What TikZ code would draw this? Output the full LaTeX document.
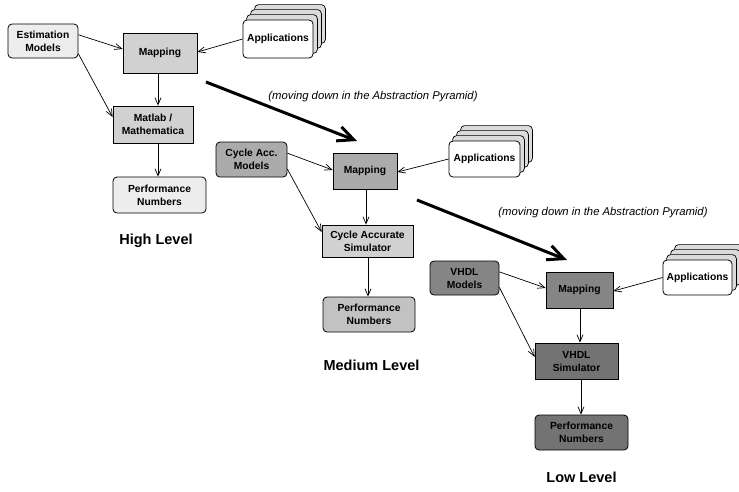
\documentclass[tikz,border=0pt]{standalone}
\usepackage{fontspec}
\setmainfont{Liberation Sans}
\usetikzlibrary{arrows.meta,calc,shadows,backgrounds}

\tikzset{
  boxtext/.style={font=\bfseries\fontsize{10.3}{13}\selectfont, align=center, inner sep=1pt},
  rbox/.style={boxtext, draw=black, line width=0.8pt, rounded corners=4pt},
  sbox/.style={boxtext, draw=black, line width=0.8pt,
    drop shadow={shadow xshift=1.2pt, shadow yshift=-1.2pt, opacity=1, fill=black}},
  stackcard/.style={draw=black, line width=0.7pt, rounded corners=4pt, fill=black!14},
  conn/.style={line width=0.7pt, -{Straight Barb[length=7pt,width=6pt,line width=0.7pt]}},
  bigconn/.style={line width=3pt, -{Straight Barb[length=16pt,width=15pt,line width=3pt]}},
  levellabel/.style={font=\bfseries\fontsize{14.5}{16}\selectfont},
  movelabel/.style={font=\itshape\fontsize{11.3}{13}\selectfont},
  lightA/.style={fill=black!7},
  lightB/.style={fill=black!18},
  midA/.style={fill=black!33},
  midB/.style={fill=black!24},
  darkA/.style={fill=black!48},
  darkB/.style={fill=black!55},
}

% stacked application cards behind a front card
\newcommand{\cardstack}[1]{%
  \begin{scope}[on background layer]
    \foreach \k in {3,2,1}
      \draw[stackcard] ($(#1.south west)+(4*\k,-5*\k)$) rectangle ($(#1.north east)+(4*\k,-5*\k)$);
  \end{scope}}

\begin{document}
\begin{tikzpicture}[x=1pt,y=-1pt]
\useasboundingbox (0,0) rectangle (739,491);

% ---------------- High level ----------------
\node[rbox, lightA, minimum width=70pt, minimum height=34pt] (est) at (43,41) {Estimation\\Models};
\node[sbox, lightB, minimum width=74pt, minimum height=40pt] (map1) at (160,53) {Mapping};
\node[rbox, fill=white, minimum width=70pt, minimum height=38pt] (app1) at (278,39) {Applications};
\cardstack{app1}
\node[sbox, lightB, minimum width=80pt, minimum height=37pt] (mat) at (153,124.5) {Matlab /\\Mathematica};
\node[rbox, lightA, minimum width=93pt, minimum height=36pt] (perf1) at (159.5,195) {Performance\\Numbers};
\node[levellabel] (hl) at (156,241) {High Level};

\draw[conn] (est.10) -- (map1.west |- 0,49);
\draw[conn] (est.-20) -- (mat.west |- 0,117);
\draw[conn] (app1.west) -- (map1.east |- 0,52);
\draw[conn] (map1.south -| 158,0) -- (mat.north -| 158,0);
\draw[conn] (mat.south -| 158,0) -- (perf1.north -| 158,0);

% ---------------- Medium level ----------------
\node[rbox, midA, minimum width=71pt, minimum height=35pt] (cyc) at (251.5,159.5) {Cycle Acc.\\Models};
\node[sbox, midA, minimum width=64pt, minimum height=36pt] (map2) at (365,171) {Mapping};
\node[rbox, fill=white, minimum width=71pt, minimum height=36pt] (app2) at (484.5,159) {Applications};
\cardstack{app2}
\node[sbox, lightB, minimum width=91pt, minimum height=32pt] (sim) at (367.5,241) {Cycle Accurate\\Simulator};
\node[rbox, midB, minimum width=92pt, minimum height=35pt] (perf2) at (369,314.5) {Performance\\Numbers};
\node[levellabel] (ml) at (371.5,365) {Medium Level};

\draw[conn] (cyc.10) -- (map2.west |- 0,170);
\draw[conn] (cyc.-15) -- (sim.west |- 0,232);
\draw[conn] (app2.west) -- (map2.east |- 0,172);
\draw[conn] (map2.south -| 366,0) -- (sim.north -| 366,0);
\draw[conn] (sim.south -| 368,0) -- (perf2.north -| 368,0);

% ---------------- Low level ----------------
\node[rbox, darkA, minimum width=69pt, minimum height=34pt] (vm) at (464.5,278) {VHDL\\Models};
\node[sbox, darkA, minimum width=67pt, minimum height=36pt] (map3) at (579.5,290) {Mapping};
\node[rbox, fill=white, minimum width=69pt, minimum height=35pt] (app3) at (697.5,277.5) {Applications};
\cardstack{app3}
\node[sbox, darkB, minimum width=83pt, minimum height=36pt] (vsim) at (576.5,361) {VHDL\\Simulator};
\node[rbox, darkB, minimum width=93pt, minimum height=35pt] (perf3) at (581.5,432.5) {Performance\\Numbers};
\node[levellabel] (ll) at (581.5,477) {Low Level};

\draw[conn] (vm.10) -- (map3.west |- 0,288);
\draw[conn] (vm.-15) -- (vsim.west |- 0,357);
\draw[conn] (app3.west) -- (map3.east |- 0,291);
\draw[conn] (map3.south -| 580,0) -- (vsim.north -| 580,0);
\draw[conn] (vsim.south -| 581,0) -- (perf3.north -| 581,0);

% ---------------- Transitions between levels ----------------
\coordinate (t1s) at (206,82);
\coordinate (t1e) at (357,141);
\coordinate (t2s) at (417,200);
\coordinate (t2e) at (567,260);
\draw[bigconn] (t1s) -- (t1e);
\draw[bigconn] (t2s) -- (t2e);
\node[movelabel] (mv1) at (373,97) {(moving down in the Abstraction Pyramid)};
\node[movelabel] (mv2) at (603,213) {(moving down in the Abstraction Pyramid)};
\end{tikzpicture}
\end{document}
